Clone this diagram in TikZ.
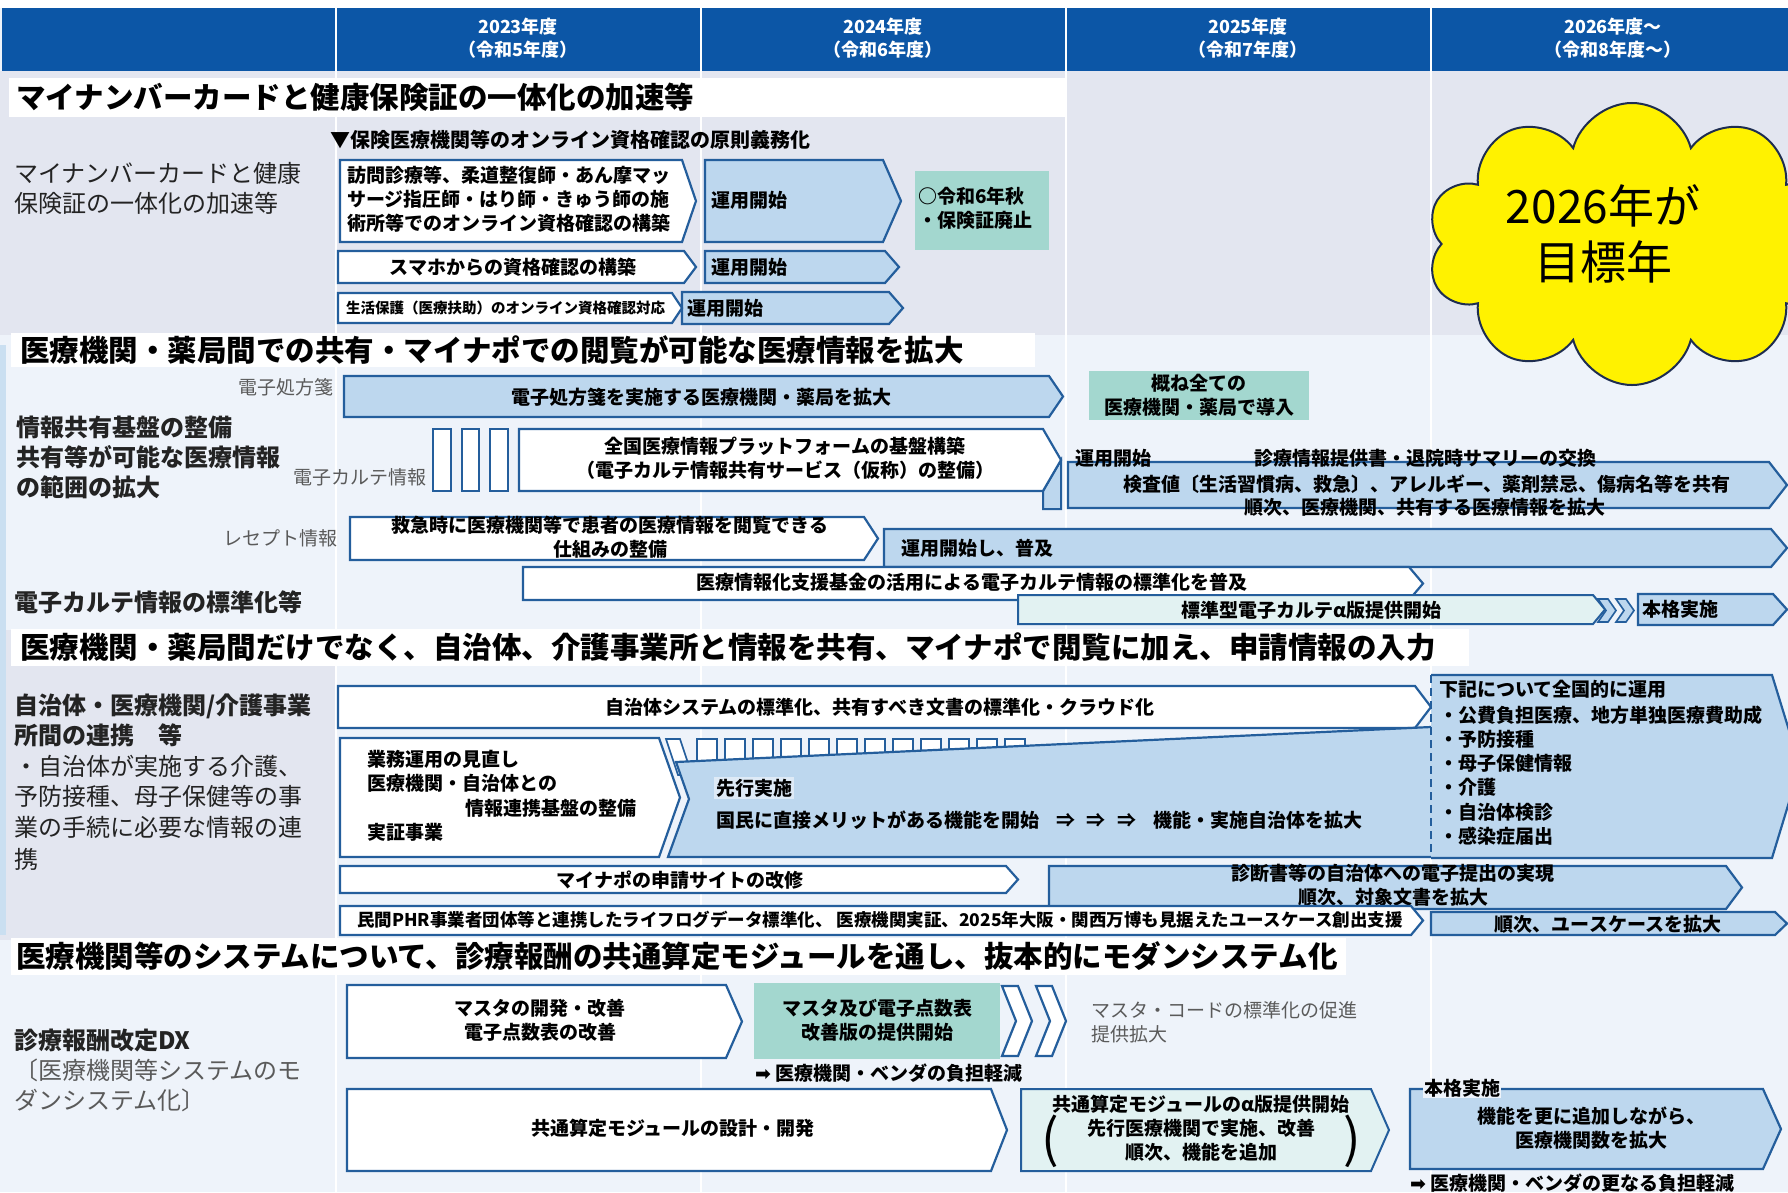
\documentclass[tikz,border=0pt]{standalone}
\usepackage{fontspec}
\setmainfont{Noto Sans CJK JP}
\newfontfamily\symf{DejaVu Sans}
\usetikzlibrary{shapes.symbols}
\definecolor{hdr}{RGB}{12,86,166}
\definecolor{bdr}{RGB}{36,94,156}
\definecolor{lb}{RGB}{189,215,238}
\definecolor{tealbox}{RGB}{163,215,207}
\definecolor{lteal}{RGB}{226,242,242}
\definecolor{bgA}{RGB}{238,243,250}
\definecolor{bgB}{RGB}{227,230,240}
\definecolor{txtgray}{RGB}{90,90,90}
\definecolor{txtdark}{RGB}{35,35,35}
\definecolor{cloudln}{RGB}{30,45,80}
\definecolor{hl}{RGB}{222,234,246}
\newcommand{\chev}[6]{\path[#1] (#2,#3) -- ({#4-#6},#3) -- (#4,{(#3+#5)/2}) -- ({#4-#6},#5) -- (#2,#5) -- cycle;}
\tikzset{
 wbox/.style={draw=bdr, line width=2.2pt, fill=white},
 bbox/.style={draw=bdr, line width=2.2pt, fill=lb},
 tbox/.style={draw=bdr, line width=2pt, fill=lteal},
 bt/.style={font=\fontsize{19}{24}\selectfont\bfseries, inner sep=0pt, align=center, text=black},
 btl/.style={bt, anchor=west, align=left},
 ttl/.style={font=\fontsize{29.5}{32}\selectfont\bfseries, anchor=west, inner sep=0pt, text=black},
 lbb/.style={font=\fontsize{24}{28}\selectfont\bfseries, anchor=west, inner sep=0pt, text=txtdark},
 lbr/.style={font=\fontsize{24}{28}\selectfont, anchor=west, inner sep=0pt, text=txtdark},
 gl/.style={font=\fontsize{19}{24}\selectfont, inner sep=0pt, text=txtgray},
 hd/.style={font=\fontsize{18}{20}\selectfont\bfseries, text=white, inner sep=0pt},
}
\begin{document}
\begin{tikzpicture}[x=1pt,y=-1pt]
\useasboundingbox (0,0) rectangle (1788,1192);
\clip (0,0) rectangle (1788,1192);
% backgrounds
\fill[bgA] (0,0) rectangle (1788,1192);
\fill[white] (0,0) rectangle (1788,8);
\fill[bgB] (0,71) rectangle (1788,335);
\fill[bgB] (0,630) rectangle (336,940);
\fill[lb!80] (0,345) rectangle (6,935);
\fill[hdr] (2,8) rectangle (1788,71);
\foreach \xx in {336,701,1066,1431} {\draw[white, line width=2pt] (\xx,8) -- (\xx,1192);}
% header
\node[hd] (h1a) at (518,27) {2023年度};
\node[hd] (h1b) at (518,50) {（令和5年度）};
\node[hd] (h2a) at (883,27) {2024年度};
\node[hd] (h2b) at (883,50) {（令和6年度）};
\node[hd] (h3a) at (1248,27) {2025年度};
\node[hd] (h3b) at (1248,50) {（令和7年度）};
\node[hd] (h4a) at (1613,27) {2026年度～};
\node[hd] (h4b) at (1613,50) {（令和8年度～）};
% ---------- section 1
\fill[white] (9,78) rectangle (1066,117);
\node[ttl] (t1) at (16,97) {マイナンバーカードと健康保険証の一体化の加速等};
\node[lbr] (l1a) at (14,173) {マイナンバーカードと健康};
\node[lbr] (l1b) at (14,203) {保険証の一体化の加速等};
\node[btl, font=\fontsize{20}{24}\selectfont\bfseries] (gimu) at (330,140) {▼保険医療機関等のオンライン資格確認の原則義務化};
\chev{wbox}{340}{160}{696}{242}{14}
\node[btl] (a1) at (347,199) {訪問診療等、柔道整復師・あん摩マッ\\サージ指圧師・はり師・きゅう師の施\\術所等でのオンライン資格確認の構築};
\chev{bbox}{705}{160}{901}{242}{18}
\node[btl] (a2) at (711,200) {運用開始};
\fill[tealbox] (915,171) rectangle (1049,250);
\node[btl] (g1) at (918,208) {○令和6年秋\\・保険証廃止};
\chev{wbox}{338}{251}{696}{283}{12}
\node[bt] (b1) at (513,267) {スマホからの資格確認の構築};
\chev{bbox}{705}{251}{899}{283}{14}
\node[btl] (b2) at (711,267) {運用開始};
\chev{bbox}{682}{292}{903}{324}{14}
\node[btl] (c2) at (687,308) {運用開始};
\chev{wbox}{338}{293}{682}{323}{10}
\node[btl, font=\fontsize{14.5}{18}\selectfont\bfseries] (c1) at (346,308) {生活保護（医療扶助）のオンライン資格確認対応};
% cloud
\node[cloud, cloud puffs=10, aspect=1.4, draw=cloudln, line width=2pt, fill=yellow, minimum width=410pt, minimum height=282pt, inner sep=0pt] (cl) at (1632,244) {};
\node[font=\fontsize{46}{56}\selectfont, align=center, inner sep=0pt] (cltxt) at (1603,234) {2026年が\\目標年};
% ---------- section 2
\fill[white] (11,333) rectangle (1035,367);
\node[ttl] (t2) at (20,350) {医療機関・薬局間での共有・マイナポでの閲覧が可能な医療情報を拡大};
\node[gl, anchor=east] (s2a) at (334,387) {電子処方箋};
\chev{bbox}{344}{376}{1063}{417}{14}
\node[bt] (d) at (701,397) {電子処方箋を実施する医療機関・薬局を拡大};
\fill[tealbox] (1089,371) rectangle (1309,420);
\node[bt] (g2) at (1199,395) {概ね全ての\\医療機関・薬局で導入};
\node[lbb] (l2a) at (16,427) {情報共有基盤の整備};
\node[lbb] (l2b) at (16,457) {共有等が可能な医療情報};
\node[lbb] (l2c) at (16,487) {の範囲の拡大};
\node[gl, anchor=east] (s2b) at (427,477) {電子カルテ情報};
\path[wbox, line width=2pt] (433,429) rectangle (451,491);
\path[wbox, line width=2pt] (462,429) rectangle (479,491);
\path[wbox, line width=2pt] (490,429) rectangle (508,491);
\path[bbox, line width=2pt] (1043,491) -- (1061,460) -- (1061,509) -- (1043,509) -- cycle;
\chev{wbox}{519}{429}{1061}{491}{18}
\node[bt] (e) at (785,458) {全国医療情報プラットフォームの基盤構築\\（電子カルテ情報共有サービス（仮称）の整備）};
\chev{bbox}{1068}{462}{1787}{508}{18}
\node[btl] (f0) at (1075,458) {運用開始};
\node[bt] (f1) at (1425,458) {診療情報提供書・退院時サマリーの交換};
\node[bt] (f2) at (1427,484) {検査値〔生活習慣病、救急〕、アレルギー、薬剤禁忌、傷病名等を共有};
\node[bt] (f3) at (1425,507) {順次、医療機関、共有する医療情報を拡大};
\node[gl, anchor=east] (s2c) at (338,538) {レセプト情報};
\chev{wbox}{350}{517}{878}{560}{14}
\node[bt] (g) at (610,537) {救急時に医療機関等で患者の医療情報を閲覧できる\\仕組みの整備};
\chev{bbox}{884}{529}{1787}{567}{16}
\node[btl] (hh) at (901,548) {運用開始し、普及};
\chev{wbox}{523}{567}{1423}{600}{14}
\node[bt] (ii) at (972,582) {医療情報化支援基金の活用による電子カルテ情報の標準化を普及};
\node[lbb] (l2d) at (14,602) {電子カルテ情報の標準化等};
\chev{tbox}{1018}{595}{1605}{624}{12}
\node[bt] (j) at (1311,610) {標準型電子カルテα版提供開始};
\foreach \xx in {1598,1616} {\path[bbox, line width=1.6pt] (\xx,599) -- (\xx+10,599) -- (\xx+18,610.5) -- (\xx+10,622) -- (\xx,622) -- (\xx+8,610.5) -- cycle;}
\chev{bbox}{1638}{594}{1787}{625}{14}
\node[btl] (k) at (1642,609) {本格実施};
% ---------- section 3
\fill[white] (11,629) rectangle (1469,666);
\node[ttl] (t3) at (20,647) {医療機関・薬局間だけでなく、自治体、介護事業所と情報を共有、マイナポで閲覧に加え、申請情報の入力};
\node[lbb] (l3a) at (14,706) {自治体・医療機関/介護事業};
\node[lbb] (l3b) at (14,735) {所間の連携　等};
\node[lbr] (l3c) at (14,766) {・自治体が実施する介護、};
\node[lbr] (l3d) at (14,796) {予防接種、母子保健等の事};
\node[lbr] (l3e) at (14,827) {業の手続に必要な情報の連};
\node[lbr] (l3f) at (14,859) {携};
\chev{wbox}{338}{686}{1431}{728}{16}
\node[bt] (ll) at (880,707) {自治体システムの標準化、共有すべき文書の標準化・クラウド化};
\path[wbox, line width=1.6pt] (666,739) -- (680,739) -- (692,775) -- (678,775) -- cycle;
\foreach \i in {0,...,11} {\path[wbox, line width=1.6pt] ({697+28*\i},739) rectangle ({717+28*\i},775);}
\chev{wbox}{340}{738}{680}{857}{21}
\node[btl] (o1) at (367,759) {業務運用の見直し};
\node[btl] (o2) at (367,783) {医療機関・自治体との};
\node[btl] (o3) at (465,808) {情報連携基盤の整備};
\node[btl] (o4) at (367,832) {実証事業};
\fill[lb] (676,762) -- (1431,727) -- (1431,857) -- (668,857) -- (689,799) -- cycle;
\draw[bdr, line width=2.2pt] (1431,727) -- (676,762) -- (689,799) -- (668,857) -- (1431,857);
\node[btl, fill=hl, inner sep=2pt] (n1) at (714,788) {先行実施};
\node[btl] (n2) at (716,820) {国民に直接メリットがある機能を開始\hspace{0.9em}⇒\hspace{0.6em}⇒\hspace{0.6em}⇒\hspace{0.9em}機能・実施自治体を拡大};
\fill[lb] (1431,675) -- (1772,675) -- (1800,766) -- (1772,858) -- (1431,858) -- cycle;
\draw[bdr, line width=2.2pt] (1431,675) -- (1772,675) -- (1800,766) -- (1772,858) -- (1431,858);
\draw[bdr, line width=2pt, dash pattern=on 8pt off 5pt] (1431,675) -- (1431,858);
\node[btl] (m0) at (1439,689) {下記について全国的に運用};
\node[btl] (m1) at (1439,715) {・公費負担医療、地方単独医療費助成};
\node[btl] (m2) at (1439,739) {・予防接種};
\node[btl] (m3) at (1439,763) {・母子保健情報};
\node[btl] (m4) at (1439,787) {・介護};
\node[btl] (m5) at (1439,812) {・自治体検診};
\node[btl] (m6) at (1439,836) {・感染症届出};
\chev{wbox}{340}{866}{1018}{893}{12}
\node[bt] (p) at (680,880) {マイナポの申請サイトの改修};
\chev{bbox}{1049}{866}{1742}{909}{16}
\node[bt] (q) at (1393,885) {診断書等の自治体への電子提出の実現\\順次、対象文書を拡大};
\chev{wbox}{340}{906}{1423}{935}{12}
\node[bt, font=\fontsize{17.5}{20}\selectfont\bfseries] (r) at (880,920) {民間PHR事業者団体等と連携したライフログデータ標準化、 医療機関実証、2025年大阪・関西万博も見据えたユースケース創出支援};
\chev{bbox}{1431}{912}{1787}{935}{12}
\node[bt] (s) at (1608,924) {順次、ユースケースを拡大};
% ---------- section 4
\fill[white] (11,938) rectangle (1346,975);
\node[ttl] (t4) at (16,956) {医療機関等のシステムについて、診療報酬の共通算定モジュールを通し、抜本的にモダンシステム化};
\node[lbb] (l4a) at (14,1040) {診療報酬改定DX};
\node[lbr, text=txtgray] (l4b) at (14,1070) {〔医療機関等システムのモ};
\node[lbr, text=txtgray] (l4c) at (14,1100) {ダンシステム化〕};
\chev{wbox}{347}{985}{742}{1058}{16}
\node[bt] (tt) at (540,1020) {マスタの開発・改善\\電子点数表の改善};
\fill[tealbox] (754,983) rectangle (1000,1059);
\node[bt] (u) at (877,1020) {マスタ及び電子点数表\\改善版の提供開始};
\foreach \xx in {1002,1036} {\path[wbox] (\xx,986) -- (\xx+16,986) -- (\xx+30,1021) -- (\xx+16,1056) -- (\xx,1056) -- (\xx+14,1021) -- cycle;}
\node[gl, anchor=west, align=left] (mc) at (1091,1022) {マスタ・コードの標準化の促進\\提供拡大};
\node[btl] (ar1) at (755,1073) {{\symf ➡} 医療機関・ベンダの負担軽減};
\chev{wbox}{347}{1089}{1007}{1171}{16}
\node[bt] (v) at (673,1128) {共通算定モジュールの設計・開発};
\chev{tbox}{1021}{1089}{1389}{1171}{18}
\node[bt] (w) at (1201,1128) {共通算定モジュールのα版提供開始\\先行医療機関で実施、改善\\順次、機能を追加};
\node[font=\fontsize{52}{56}\selectfont, inner sep=0pt] (wpl) at (1050,1141) {(};
\node[font=\fontsize{52}{56}\selectfont, inner sep=0pt] (wpr) at (1352,1141) {)};
\chev{bbox}{1410}{1089}{1781}{1169}{18}
\node[btl, fill=bgA, inner sep=1pt] (x0) at (1423,1088) {本格実施};
\node[bt] (x1) at (1591,1128) {機能を更に追加しながら、\\医療機関数を拡大};
\node[btl] (ar2) at (1410,1183) {{\symf ➡} 医療機関・ベンダの更なる負担軽減};
\end{tikzpicture}
\end{document}
